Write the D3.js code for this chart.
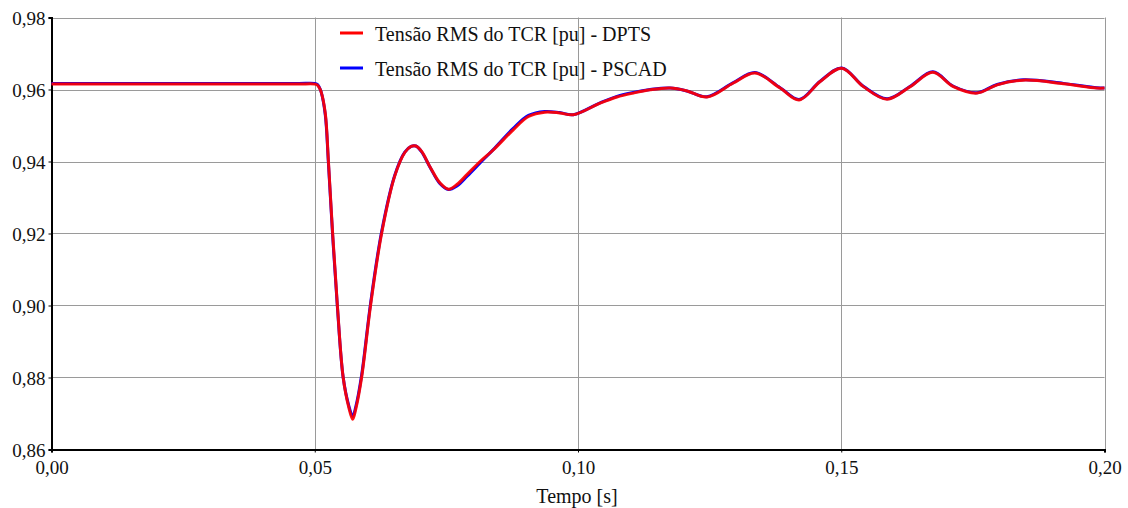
<!DOCTYPE html>
<html>
<head>
<meta charset="utf-8">
<script src="https://cdn.jsdelivr.net/npm/d3@7"></script>
<style>
  body { margin: 0; background: #fff; }
</style>
</head>
<body>
<div id="content"></div>
<script>
// datas
const timeDPTS = [0, 0.010, 0.020, 0.030, 0.040, 0.0470, 0.0500, 0.0505, 0.0509, 0.0512, 0.0520, 0.0526, 0.0534, 0.0543, 0.0554, 0.0565, 0.0572, 0.0578, 0.0589, 0.0606, 0.0627, 0.0652, 0.0671, 0.0683, 0.0692, 0.0703, 0.0719, 0.0738, 0.0754, 0.0770, 0.0790, 0.0814, 0.0839, 0.0877, 0.0906, 0.0937, 0.0965, 0.0991, 0.1042, 0.1074, 0.1105, 0.1137, 0.1175, 0.1207, 0.1245, 0.1295, 0.1336, 0.1384, 0.1420, 0.1460, 0.1501, 0.1542, 0.1587, 0.1631, 0.1674, 0.1713, 0.1758, 0.1796, 0.1846, 0.1922, 0.1985, 0.2000];
const valDPTS  = [0.9615, 0.9615, 0.9615, 0.9615, 0.9615, 0.9615, 0.9615, 0.9612, 0.9604, 0.9594, 0.9534, 0.9400, 0.9200, 0.9000, 0.8800, 0.8715, 0.8684, 0.8713, 0.8800, 0.9000, 0.9200, 0.9360, 0.9425, 0.9442, 0.9443, 0.9428, 0.9385, 0.9340, 0.9323, 0.9336, 0.9365, 0.9400, 0.9432, 0.9488, 0.9525, 0.9537, 0.9535, 0.9530, 0.9562, 0.9579, 0.9590, 0.9599, 0.9604, 0.9596, 0.9579, 0.9618, 0.9646, 0.9604, 0.9571, 0.9622, 0.9659, 0.9608, 0.9573, 0.9608, 0.9648, 0.9608, 0.9590, 0.9613, 0.9626, 0.9616, 0.9604, 0.9604];

const timePSCAD = [0, 0.010, 0.020, 0.030, 0.040, 0.0470, 0.0500, 0.0505, 0.0509, 0.0512, 0.0520, 0.0526, 0.0534, 0.0543, 0.0554, 0.0565, 0.0572, 0.0578, 0.0589, 0.0606, 0.0627, 0.0652, 0.0671, 0.0683, 0.0692, 0.0703, 0.0719, 0.0738, 0.0754, 0.0770, 0.0790, 0.0814, 0.0839, 0.0877, 0.0906, 0.0937, 0.0965, 0.0991, 0.1042, 0.1074, 0.1105, 0.1137, 0.1175, 0.1207, 0.1245, 0.1295, 0.1336, 0.1384, 0.1420, 0.1460, 0.1501, 0.1542, 0.1587, 0.1631, 0.1674, 0.1713, 0.1758, 0.1796, 0.1846, 0.1922, 0.1985, 0.2000];
const valPSCAD  = [0.9617, 0.9617, 0.9617, 0.9617, 0.9617, 0.9617, 0.9617, 0.9614, 0.9605, 0.9594, 0.9530, 0.9395, 0.9195, 0.8996, 0.8800, 0.8720, 0.8692, 0.8719, 0.8806, 0.9006, 0.9205, 0.9362, 0.9426, 0.9442, 0.9443, 0.9427, 0.9384, 0.9338, 0.9322, 0.9332, 0.9360, 0.9396, 0.9433, 0.9492, 0.9528, 0.9539, 0.9536, 0.9530, 0.9563, 0.9581, 0.9592, 0.9600, 0.9604, 0.9596, 0.9580, 0.9619, 0.9647, 0.9605, 0.9572, 0.9623, 0.9660, 0.9609, 0.9574, 0.9609, 0.9649, 0.9609, 0.9591, 0.9614, 0.9627, 0.9617, 0.9605, 0.9604];

const xTicks = [0, 0.05, 0.10, 0.15, 0.20];
const yTicks = [0.86, 0.88, 0.90, 0.92, 0.94, 0.96, 0.98];

const legendNames = ["Tensão RMS do TCR [pu] - DPTS", "Tensão RMS do TCR [pu] - PSCAD"];

// view
const w = 1128;
const h = 508;
const mLeft = 51.5, mRight = 1104.5, mTop = 17.5, mBottom = 449.5;
const serif = "Liberation Serif";

const svg = d3.select("#content")
            .append("svg")
            .attr("width", w)
            .attr("height", h);

const x = d3.scaleLinear().domain([0, 0.2]).range([mLeft, mRight]);
const y = d3.scaleLinear().domain([0.86, 0.98]).range([mBottom, mTop]);

const fmt = d => d3.format(".2f")(d).replace(".", ",");

// grid
svg.append("g")
   .selectAll("line")
   .data(yTicks)
   .enter()
   .append("line")
   .attr("x1", mLeft).attr("x2", mRight)
   .attr("y1", d => Math.round(y(d)) + 0.5)
   .attr("y2", d => Math.round(y(d)) + 0.5)
   .attr("stroke", "#9a9a9a")
   .attr("stroke-width", 1);

svg.append("g")
   .selectAll("line")
   .data(xTicks)
   .enter()
   .append("line")
   .attr("x1", d => Math.round(x(d)) + 0.5)
   .attr("x2", d => Math.round(x(d)) + 0.5)
   .attr("y1", mTop).attr("y2", mBottom)
   .attr("stroke", "#9a9a9a")
   .attr("stroke-width", 1);

// axes
const yAxis = d3.axisLeft(y).tickValues(yTicks).tickFormat(fmt).tickSize(3).tickPadding(3);
const xAxis = d3.axisBottom(x).tickValues(xTicks).tickFormat(fmt).tickSize(3).tickPadding(8);

const gy = svg.append("g").attr("transform", `translate(${mLeft},0)`).call(yAxis);
const gx = svg.append("g").attr("transform", `translate(0,${mBottom})`).call(xAxis);

[gy, gx].forEach(g => {
  g.select(".domain").attr("stroke", "#000").attr("stroke-width", 2);
  g.selectAll(".tick line").attr("stroke", "#000");
  g.selectAll(".tick text")
   .attr("font-family", serif)
   .attr("font-size", 19)
   .attr("fill", "#111");
});
gy.selectAll(".tick text").attr("dy", "0.35em");

svg.append("text")
   .attr("x", 577)
   .attr("y", 503)
   .attr("text-anchor", "middle")
   .attr("font-family", serif)
   .attr("font-size", 20)
   .attr("fill", "#111")
   .text("Tempo [s]");

// lines
const line = d3.line()
   .x(d => x(d[0]))
   .y(d => y(d[1]))
   .curve(d3.curveCatmullRom.alpha(0.5));

const psc = timePSCAD.map((t, i) => [t, valPSCAD[i]]);
const dpt = timeDPTS.map((t, i) => [t, valDPTS[i]]);

svg.append("path")
   .datum(psc)
   .attr("d", line)
   .attr("fill", "none")
   .attr("stroke", "#0000ff")
   .attr("stroke-width", 3);

svg.append("path")
   .datum(dpt)
   .attr("d", line)
   .attr("fill", "none")
   .attr("stroke", "#ff0000")
   .attr("stroke-width", 3)
   .attr("stroke-opacity", 0.92);

// legend
const legendColors = ["#ff0000", "#0000ff"];
const lg = svg.append("g")
   .selectAll("g")
   .data(legendNames)
   .enter()
   .append("g")
   .attr("transform", (d, i) => `translate(340,${33 + i * 35})`);

lg.append("rect")
  .attr("x", 0).attr("y", -1.5)
  .attr("width", 23).attr("height", 3)
  .attr("fill", (d, i) => legendColors[i]);

lg.append("text")
  .attr("x", 35)
  .attr("y", 7.5)
  .attr("font-family", serif)
  .attr("font-size", 20)
  .attr("fill", "#111")
  .text(d => d);
</script>
</body>
</html>
